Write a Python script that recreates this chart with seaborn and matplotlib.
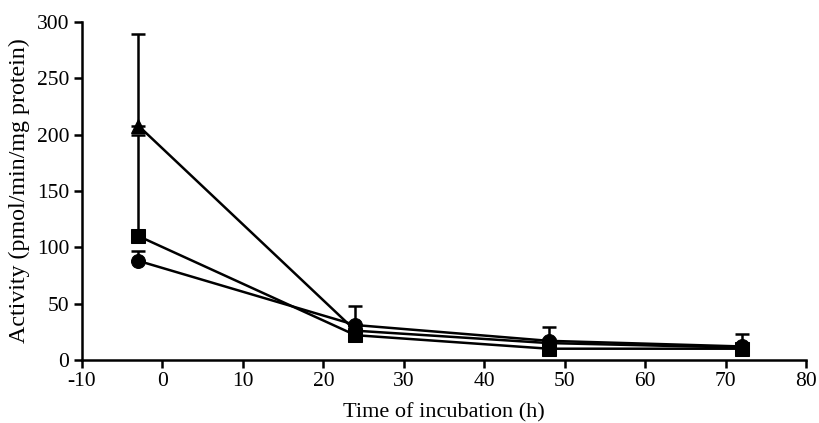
import numpy as np
import pandas as pd
import matplotlib
matplotlib.use("Agg")
import matplotlib.pyplot as plt
import seaborn as sns

time_h = [-3, 24, 48, 72]
circle_vals = [88, 31, 17, 12]
circle_err = [9, 17, 12, 11]
square_vals = [110, 22, 10, 10]
square_err = [90, 4, 3, 3]
triangle_vals = [208, 26, 15, 11]
triangle_err = [81, 5, 4, 3]

x_ticks = [-10, 0, 10, 20, 30, 40, 50, 60, 70, 80]
y_ticks = [0, 50, 100, 150, 200, 250, 300]

series = [("circle", circle_vals, circle_err, "o"),
          ("square", square_vals, square_err, "s"),
          ("triangle", triangle_vals, triangle_err, "^")]

rows = []
for name, vals, errs, m in series:
    for t, v, e in zip(time_h, vals, errs):
        rows.append({"time": t, "activity": v, "err": e, "series": name})
df = pd.DataFrame(rows)

sns.set_theme(style="ticks")
plt.rcParams["font.family"] = ["Liberation Serif", "DejaVu Serif"]

fig = plt.figure(figsize=(8.19, 4.23), dpi=100)
ax = fig.add_axes([0.1001, 0.149, 0.884, 0.799])

# error bars (upper only)
for name, vals, errs, m in series:
    ax.errorbar(time_h, vals, yerr=[np.zeros(len(errs)), errs], fmt="none",
                ecolor="black", elinewidth=1.8, capsize=5, capthick=1.8, zorder=2)

sns.lineplot(data=df, x="time", y="activity", hue="series", style="series",
             markers={"circle": "o", "square": "s", "triangle": "^"},
             dashes=False, palette={"circle": "black", "square": "black", "triangle": "black"},
             markersize=10, linewidth=1.8, markeredgecolor="black",
             legend=False, ax=ax, zorder=3)

ax.set_xlim(-10, 80)
ax.set_ylim(0, 300)
ax.set_xticks(x_ticks)
ax.set_yticks(y_ticks)
ax.set_xticklabels([str(v) for v in x_ticks])
ax.set_xlabel("Time of incubation (h)", fontsize=16, color="black", labelpad=8)
ax.set_ylabel("Activity (pmol/min/mg protein)", fontsize=17.3, color="black", labelpad=5)
ax.tick_params(axis="both", labelsize=15.5, colors="black", direction="out",
               length=6, width=1.8, pad=3)
for s in ["top", "right"]:
    ax.spines[s].set_visible(False)
for s in ["left", "bottom"]:
    ax.spines[s].set_linewidth(1.8)
    ax.spines[s].set_color("black")

fig.savefig("out.png", dpi=100)
